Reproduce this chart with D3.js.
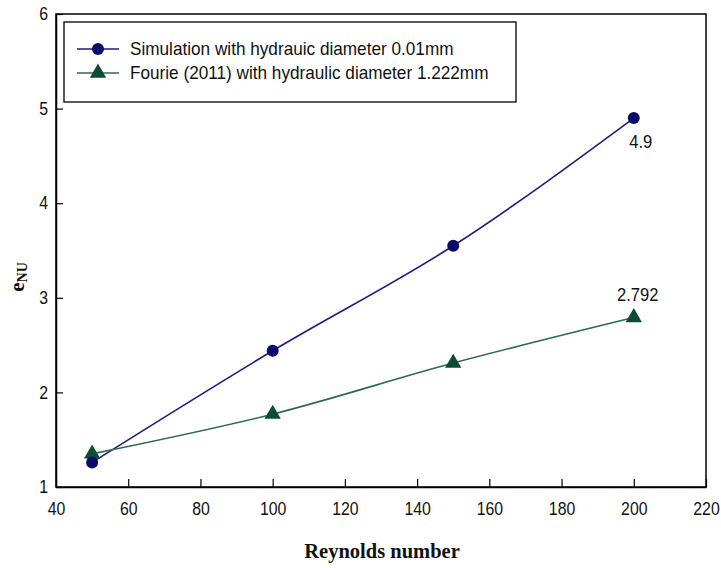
<!DOCTYPE html>
<html>
<head>
<meta charset="utf-8">
<script src="https://cdn.jsdelivr.net/npm/d3@7"></script>
<style>
  body { margin: 0; background: #fff; }
  svg { display: block; }
</style>
</head>
<body>
<svg id="chart" width="721" height="568"></svg>
<script>
// Reynolds number values and effectiveness results
const reynolds = [50, 100, 150, 200];
const simulation = [1.26, 2.44, 3.55, 4.9];
const fourie = [1.35, 1.77, 2.31, 2.792];
const xTicks = [40, 60, 80, 100, 120, 140, 160, 180, 200, 220];
const yTicks = [1, 2, 3, 4, 5, 6];
const seriesNames = [
  "Simulation with hydrauic diameter 0.01mm",
  "Fourie (2011) with hydraulic diameter 1.222mm"
];
const valueLabels = [
  { series: 0, index: 3, text: "4.9" },
  { series: 1, index: 3, text: "2.792" }
];

const svg = d3.select("#chart");
const margin = { left: 56, top: 14, right: 15, bottom: 81 };
const W = 721, H = 568;
const x = d3.scaleLinear().domain([40, 220]).range([margin.left, W - margin.right]);
const y = d3.scaleLinear().domain([1, 6]).range([H - margin.bottom, margin.top]);

const colors = ["#0b0b6b", "#0c4c35"];
const lineColors = ["#1c1c88", "#2c6a52"];
const font = "'Liberation Sans', Arial, sans-serif";
const serif = "'Liberation Serif', 'Times New Roman', serif";

// Plot frame
svg.append("rect")
  .attr("x", x(40)).attr("y", y(6))
  .attr("width", x(220) - x(40)).attr("height", y(1) - y(6))
  .attr("fill", "none").attr("stroke", "#000").attr("stroke-width", 1.5);

// Axes with inward ticks; labels set in a slightly narrow face
const xAxis = svg.append("g")
  .attr("transform", `translate(0,${y(1)})`)
  .call(d3.axisBottom(x).tickValues(xTicks).tickFormat(d3.format("d"))
    .tickSizeInner(-8).tickSizeOuter(0).tickPadding(15));
const yAxis = svg.append("g")
  .attr("transform", `translate(${x(40)},0)`)
  .call(d3.axisLeft(y).tickValues(yTicks).tickFormat(d3.format("d"))
    .tickSizeInner(-7).tickSizeOuter(0).tickPadding(9));
[xAxis, yAxis].forEach(g => {
  g.select(".domain").attr("stroke", "#000").attr("stroke-width", 1.5);
  g.selectAll(".tick line").attr("stroke", "#000").attr("stroke-width", 1.2);
  g.selectAll(".tick text")
    .attr("font-family", font).attr("font-size", 18).attr("fill", "#111")
    .attr("transform", "scale(0.88,1)");
});

// Axis titles
svg.append("text")
  .attr("x", 382).attr("y", 558)
  .attr("text-anchor", "middle")
  .attr("font-family", serif).attr("font-weight", "bold").attr("font-size", 20.5)
  .attr("fill", "#111")
  .text("Reynolds number");

// Vertical y-axis title: e with subscript NU, reading bottom to top
const ytg = svg.append("g").attr("transform", "translate(24,277)");
const yt = ytg.append("g").attr("transform", "rotate(-90)")
  .append("text")
  .attr("x", 0).attr("y", 0)
  .attr("text-anchor", "middle")
  .attr("font-family", serif).attr("font-weight", "bold").attr("font-size", 21)
  .attr("fill", "#111");
yt.append("tspan").text("e");
yt.append("tspan").attr("font-size", 14).attr("dy", 3).text("NU");

// Series lines and markers
const allSeries = [simulation, fourie];
const line = d3.line()
  .x((d, i) => x(reynolds[i]))
  .y(d => y(d))
  .curve(d3.curveMonotoneX);

const triangle = d3.symbol().type(d3.symbolTriangle).size(115);

allSeries.forEach((vals, s) => {
  svg.append("path")
    .datum(vals)
    .attr("d", line)
    .attr("fill", "none")
    .attr("stroke", lineColors[s])
    .attr("stroke-width", 1.6);
});

// Triangles first, circles on top
svg.selectAll(".tri").data(fourie).enter().append("path")
  .attr("transform", (d, i) => `translate(${x(reynolds[i])},${y(d)})`)
  .attr("d", triangle)
  .attr("fill", colors[1]);
svg.selectAll(".dot").data(simulation).enter().append("circle")
  .attr("cx", (d, i) => x(reynolds[i]))
  .attr("cy", d => y(d))
  .attr("r", 6)
  .attr("fill", colors[0]);

// Value annotations
valueLabels.forEach(l => {
  const v = allSeries[l.series][l.index];
  const tx = x(reynolds[l.index]) + (l.series === 0 ? 7 : 4);
  const ty = y(v) + (l.series === 0 ? 30 : -16);
  svg.append("text")
    .attr("transform", `translate(${tx},${ty}) scale(0.92,1)`)
    .attr("text-anchor", "middle")
    .attr("font-family", font).attr("font-size", 18).attr("fill", "#111")
    .text(l.text);
});

// Legend
const lg = svg.append("g");
lg.append("rect")
  .attr("x", 64).attr("y", 22).attr("width", 452).attr("height", 80)
  .attr("fill", "#fff").attr("stroke", "#000").attr("stroke-width", 1.3);
seriesNames.forEach((name, s) => {
  const cy = 49 + s * 24;
  lg.append("line")
    .attr("x1", 77).attr("x2", 119).attr("y1", cy).attr("y2", cy)
    .attr("stroke", lineColors[s]).attr("stroke-width", 1.6);
  if (s === 0) {
    lg.append("circle").attr("cx", 98).attr("cy", cy).attr("r", 6).attr("fill", colors[0]);
  } else {
    lg.append("path").attr("transform", `translate(98,${cy})`).attr("d", triangle).attr("fill", colors[1]);
  }
  lg.append("text")
    .attr("transform", `translate(130,${cy + 6}) scale(0.955,1)`)
    .attr("font-family", font).attr("font-size", 18).attr("fill", "#111")
    .text(name);
});
</script>
</body>
</html>
